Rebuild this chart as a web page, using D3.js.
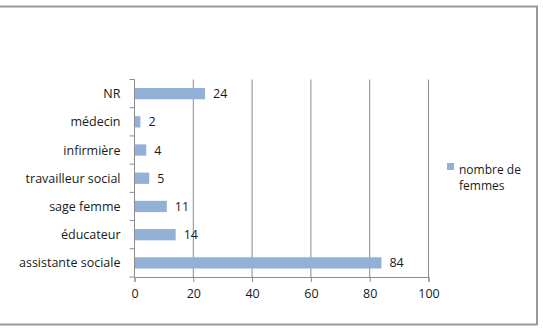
<!DOCTYPE html>
<html>
<head>
<meta charset="utf-8">
<script src="https://cdn.jsdelivr.net/npm/d3@7"></script>
<style>
body { margin: 0; background: #fff; }
text { font-family: "Open Sans", sans-serif; fill: #1a1a1a; }
</style>
</head>
<body>
<svg width="543" height="333"></svg>
<script>
// categories listed top to bottom, as in the chart
let categories = ['NR', 'médecin', 'infirmière', 'travailleur social', 'sage femme', 'éducateur', 'assistante sociale']
let values = [24, 2, 4, 5, 11, 14, 84]
let xTicks = [0, 20, 40, 60, 80, 100]
let seriesName = ['nombre de', 'femmes']

let dt = categories.map((c, i) => { return {cat: c, val: values[i]} })

let svg = d3.select("svg")

// outer frame
svg.append("rect")
    .attr("x", -5)
    .attr("y", 6.5)
    .attr("width", 542)
    .attr("height", 318)
    .attr("fill", "none")
    .attr("stroke", "#9a9a9a")
    .attr("stroke-width", 2)

let padL = 134.5, padT = 79.5
let w = 294, h = 197.5

let x = d3.scaleLinear().range([0, w]).domain([0, 100])
let y = d3.scaleBand().range([0, h]).domain(categories).paddingInner(0.6).paddingOuter(0.3)

let g = svg.append("g")
    .attr("transform", "translate(" + padL + "," + padT + ")")

// vertical gridlines
g.selectAll(".grid")
    .data(xTicks.slice(1))
    .enter()
    .append("line")
    .attr("x1", (d) => x(d))
    .attr("x2", (d) => x(d))
    .attr("y1", 0)
    .attr("y2", h)
    .attr("stroke", "#8c8c8c")
    .attr("stroke-width", 1)

// bars
g.selectAll(".bar")
    .data(dt)
    .enter()
    .append("rect")
    .attr("x", 0)
    .attr("y", (d) => y(d.cat))
    .attr("width", (d) => x(d.val))
    .attr("height", y.bandwidth())
    .attr("fill", "#93b1d7")

// value labels
g.selectAll(".lbl")
    .data(dt)
    .enter()
    .append("text")
    .attr("x", (d) => x(d.val) + 8)
    .attr("y", (d) => y(d.cat) + y.bandwidth() / 2)
    .attr("dy", "0.36em")
    .attr("font-size", "12.5px")
    .text((d) => d.val)

// x axis
let xAxis = g.append("g")
    .attr("transform", "translate(0," + h + ")")
    .call(d3.axisBottom(x).tickValues(xTicks).tickSize(5).tickPadding(7))
xAxis.select(".domain").attr("stroke", "#8c8c8c")
xAxis.selectAll("line").attr("stroke", "#8c8c8c")
xAxis.selectAll("text").attr("font-size", "12.5px").attr("fill", "#1a1a1a")
    .style("font-family", "'Open Sans', sans-serif")

// y axis, ticks sit on category boundaries
let yAxis = g.append("g")
yAxis.append("line")
    .attr("x1", 0).attr("x2", 0)
    .attr("y1", 0).attr("y2", h)
    .attr("stroke", "#8c8c8c")
let step = h / categories.length
yAxis.selectAll(".tk")
    .data(d3.range(categories.length + 1))
    .enter()
    .append("line")
    .attr("x1", -5).attr("x2", 0)
    .attr("y1", (d) => d * step)
    .attr("y2", (d) => d * step)
    .attr("stroke", "#8c8c8c")
yAxis.selectAll(".cat")
    .data(categories)
    .enter()
    .append("text")
    .attr("x", -14)
    .attr("y", (d) => y(d) + y.bandwidth() / 2)
    .attr("dy", "0.36em")
    .attr("text-anchor", "end")
    .attr("font-size", "12.5px")
    .text((d) => d)

// legend
let lg = svg.append("g").attr("transform", "translate(447,163)")
lg.append("rect")
    .attr("width", 7).attr("height", 7)
    .attr("fill", "#93b1d7")
lg.selectAll("text")
    .data(seriesName)
    .enter()
    .append("text")
    .attr("x", 12)
    .attr("y", (d, i) => 10.5 + i * 16.5)
    .attr("font-size", "12px")
    .text((d) => d)
</script>
</body>
</html>
